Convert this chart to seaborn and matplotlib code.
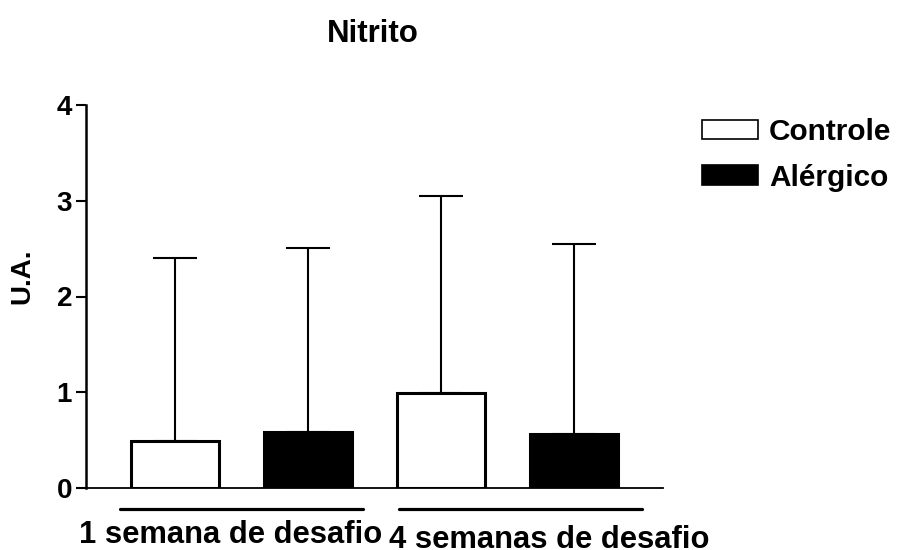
import matplotlib
matplotlib.use("Agg")
import matplotlib.pyplot as plt
import matplotlib.transforms as mtransforms
import numpy as np
import pandas as pd
import seaborn as sns

# Data: mean nitrite (U.A.) and SD per group / condition
semanas = ["1 semana de desafio", "4 semanas de desafio"]
condicoes = ["Controle", "Alérgico"]
media_controle = [0.49, 0.99]
media_alergico = [0.58, 0.56]
dp_controle = [1.91, 2.06]
dp_alergico = [1.93, 1.99]
yticks = [0, 1, 2, 3, 4]

sns.set_style("ticks")
plt.rcParams["font.family"] = ["Liberation Sans", "DejaVu Sans"]
plt.rcParams["font.weight"] = "bold"
for key in ("text.color", "axes.labelcolor", "xtick.color", "ytick.color",
            "axes.edgecolor"):
    plt.rcParams[key] = "black"

df = pd.DataFrame({
    "semana": semanas * 2,
    "condicao": [condicoes[0]] * 2 + [condicoes[1]] * 2,
    "media": media_controle + media_alergico,
    "dp": dp_controle + dp_alergico,
})

fig = plt.figure(figsize=(9, 5.5), dpi=100)
ax = fig.add_axes([86 / 900, 1 - 488 / 550, (663 - 86) / 900, (488 - 105) / 550])

sns.barplot(data=df, x="semana", y="media", hue="condicao",
            hue_order=condicoes, order=semanas,
            palette=["white", "black"], edgecolor="black", linewidth=2.2,
            width=1.0, gap=0.34, errorbar=None, ax=ax)

# upward-only SD bars, positioned on the drawn bars
bars = ax.patches[:4]
xs, ys, es = [], [], []
for patch, (_, row) in zip(bars, df.iterrows()):
    xs.append(patch.get_x() + patch.get_width() / 2)
    ys.append(row["media"])
    es.append(row["dp"])
ax.errorbar(xs, ys, yerr=[np.zeros(len(es)), es], fmt="none",
            ecolor="black", elinewidth=1.5, capsize=16, capthick=1.5, zorder=1)
for p in bars:
    p.set_zorder(2)

ax.set_xlim(-0.585, 1.585)
ax.set_ylim(0, 4)
ax.set_yticks(yticks)
ax.set_yticklabels([str(t) for t in yticks], fontsize=20, fontweight="bold")
ax.tick_params(axis="y", length=7, width=1.5, pad=3, color="black")
ax.tick_params(axis="x", length=0, labelbottom=False)
ax.set_xlabel("")
ax.set_ylabel("")
sns.despine(ax=ax)
ax.spines["left"].set_linewidth(1.8)
ax.spines["bottom"].set_linewidth(1.3)

# group underlines and group labels
trans = mtransforms.blended_transform_factory(ax.transData, ax.transAxes)
under_y = -21 / 383
ax.plot([-0.457, 0.457], [under_y, under_y], color="black", lw=2.3,
        transform=trans, clip_on=False, solid_capstyle="round")
ax.plot([0.592, 1.506], [under_y, under_y], color="black", lw=2.3,
        transform=trans, clip_on=False, solid_capstyle="round")
tlab = mtransforms.blended_transform_factory(ax.transData, fig.transFigure)
ax.text(-0.04, 1 - 543 / 550, semanas[0], transform=tlab, ha="center",
        va="baseline", fontsize=22.3, fontweight="bold")
ax.text(1.156, 1 - 547.5 / 550, semanas[1], transform=tlab, ha="center",
        va="baseline", fontsize=22.3, fontweight="bold")

# legend
handles, labels = ax.get_legend_handles_labels()
for h in handles:
    h.set_linewidth(1.2)
ax.legend(handles, labels, frameon=False, loc="upper left",
          bbox_to_anchor=(702 / 900, 1 - 118 / 550), bbox_transform=fig.transFigure,
          prop={"weight": "bold", "size": 21.4},
          handlelength=1.9, handleheight=0.65, handletextpad=0.35,
          labelspacing=0.6, borderpad=0, borderaxespad=0)

fig.text(373 / 900, 1 - 34 / 550, "Nitrito", ha="center", va="center",
         fontsize=22.5, fontweight="bold")
fig.text(22 / 900, 1 - 276 / 550, "U.A.", ha="center", va="center",
         rotation=90, fontsize=20, fontweight="bold")

fig.savefig("out.png", dpi=100)
